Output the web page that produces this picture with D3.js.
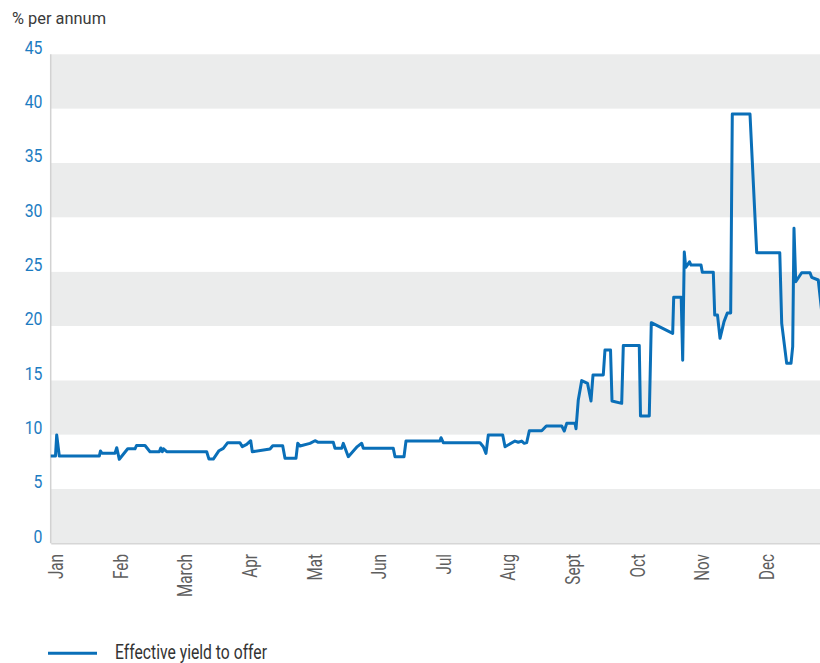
<!DOCTYPE html>
<html>
<head>
<meta charset="utf-8">
<script src="https://cdn.jsdelivr.net/npm/d3@7"></script>
<style>
  html, body { margin: 0; padding: 0; background: #fff; }
  svg { display: block; font-family: Roboto, "Noto Sans", sans-serif; }
</style>
</head>
<body>
<svg id="chart" width="820" height="663"></svg>
<script>
// ---- data ----
const months = ["Jan", "Feb", "March", "Apr", "Mat", "Jun", "Jul", "Aug", "Sept", "Oct", "Nov", "Dec"];
const yTicks = [0, 5, 10, 15, 20, 25, 30, 35, 40, 45];
const yTitle = "% per annum";
const seriesName = "Effective yield to offer";
// position in months from start of year
const monthPos = [
  0.000, 0.074, 0.093, 0.133, 0.752, 0.771, 0.794, 0.995, 1.022, 1.062,
  1.192, 1.305, 1.328, 1.460, 1.537, 1.681, 1.703, 1.728, 1.743, 1.796,
  2.415, 2.450, 2.517, 2.605, 2.672, 2.740, 2.930, 2.966, 3.034, 3.096,
  3.121, 3.395, 3.437, 3.591, 3.627, 3.797, 3.824, 3.859, 4.014, 4.091,
  4.142, 4.375, 4.401, 4.505, 4.529, 4.607, 4.746, 4.814, 4.839, 5.303,
  5.330, 5.469, 5.500, 6.026, 6.042, 6.077, 6.646, 6.697, 6.738, 6.774,
  6.997, 7.033, 7.187, 7.238, 7.291, 7.331, 7.368, 7.409, 7.601, 7.672,
  7.910, 7.950, 7.988, 8.116, 8.132, 8.167, 8.220, 8.310, 8.364, 8.395,
  8.554, 8.580, 8.666, 8.689, 8.839, 8.864, 9.111, 9.130, 9.266, 9.297,
  9.628, 9.644, 9.760, 9.783, 9.808, 9.830, 9.889, 9.912, 10.067, 10.087,
  10.257, 10.279, 10.322, 10.361, 10.423, 10.474, 10.526, 10.551, 10.825, 10.929,
  11.286, 11.316, 11.393, 11.460, 11.486, 11.506, 11.533, 11.625, 11.754, 11.780,
  11.882, 11.932
];
const yieldVals = [
  8.03, 8.03, 9.97, 8.03, 8.03, 8.50, 8.28, 8.28, 8.80, 7.73,
  8.70, 8.70, 9.00, 9.00, 8.43, 8.43, 8.77, 8.43, 8.70, 8.43,
  8.43, 7.75, 7.75, 8.52, 8.74, 9.26, 9.26, 8.89, 9.10, 9.44,
  8.43, 8.68, 8.98, 8.98, 7.82, 7.82, 9.20, 8.95, 9.20, 9.44,
  9.29, 9.29, 8.74, 8.74, 9.20, 7.97, 8.90, 9.20, 8.74, 8.74,
  7.97, 7.97, 9.41, 9.41, 9.72, 9.26, 9.26, 8.89, 8.28, 9.97,
  9.97, 8.89, 9.41, 9.30, 9.41, 9.20, 9.26, 10.36, 10.36, 10.80,
  10.80, 10.33, 11.04, 11.04, 10.55, 13.19, 14.97, 14.72, 13.10, 15.49,
  15.49, 17.79, 17.79, 13.10, 12.88, 18.20, 18.20, 11.71, 11.71, 20.30,
  19.32, 22.65, 22.65, 16.85, 26.80, 25.40, 25.90, 25.60, 25.60, 24.95,
  24.95, 21.00, 21.00, 18.86, 20.40, 21.20, 21.20, 39.50, 39.50, 26.74,
  26.74, 20.24, 16.56, 16.56, 18.09, 28.99, 24.07, 24.90, 24.90, 24.48,
  24.23, 21.50
];

// ---- layout ----
const svg = d3.select("#chart");
const W = 820;
const x = d3.scaleLinear().domain([0, 12]).range([50.7, 825.9]);
const y = d3.scaleLinear().domain([0, 45]).range([543.3, 54.3]);

const blue = "#0a6fb8";
const bandGray = "#ebecec";

// bands (alternating)
const bands = d3.range(0, 45, 5);
svg.append("g").selectAll("rect").data(bands).join("rect")
  .attr("x", x(0))
  .attr("width", W - x(0))
  .attr("y", d => y(d + 5))
  .attr("height", d => y(d) - y(d + 5))
  .attr("fill", (d, i) => i % 2 === 0 ? bandGray : "#ffffff");

// left axis line
svg.append("line")
  .attr("x1", x(0)).attr("x2", x(0))
  .attr("y1", y(45)).attr("y2", y(0))
  .attr("stroke", "#d2d2d2").attr("stroke-width", 1.5);

// y axis
const yAxis = svg.append("g")
  .attr("transform", `translate(${x(0)},0)`)
  .call(d3.axisLeft(y).tickValues(yTicks).tickSize(0).tickPadding(8));
yAxis.select(".domain").remove();
const yScaleX = 0.88;
yAxis.selectAll("text")
  .attr("fill", "#1c7cc2")
  .attr("font-size", 18)
  .attr("font-family", "Roboto, sans-serif")
  .attr("dy", -1)
  .attr("x", -8.2 / yScaleX)
  .attr("transform", `scale(${yScaleX},1)`);

// x axis
const xAxis = svg.append("g")
  .attr("transform", `translate(0,${y(0)})`)
  .call(d3.axisBottom(x).tickValues(d3.range(12)).tickFormat(i => months[i]).tickSize(0).tickSizeOuter(0));
xAxis.select(".domain")
  .attr("stroke", "#d6d6d6").attr("stroke-width", 1.5);
xAxis.selectAll("text")
  .attr("fill", "#5e5e5e")
  .attr("font-size", 20.5)
  .attr("font-family", "Roboto, sans-serif")
  .attr("text-anchor", "end")
  .attr("x", 0).attr("y", 0)
  .attr("dy", "0.35em")
  .attr("transform", "translate(4.8,10.7) rotate(-90) scale(0.744,1)");

// title
svg.append("text")
  .attr("x", 12).attr("y", 24)
  .attr("font-size", 17.3)
  .attr("fill", "#3a3a3a")
  .attr("textLength", 94)
  .attr("lengthAdjust", "spacingAndGlyphs")
  .text(yTitle);

// line
const pts = monthPos.map((m, i) => [m, yieldVals[i]]);
svg.append("path")
  .datum(pts)
  .attr("fill", "none")
  .attr("stroke", blue)
  .attr("stroke-width", 3)
  .attr("stroke-linejoin", "round")
  .attr("d", d3.line().x(d => x(d[0])).y(d => y(d[1])));

// legend
const lg = svg.append("g");
lg.append("line")
  .attr("x1", 48).attr("x2", 97)
  .attr("y1", 653.3).attr("y2", 653.3)
  .attr("stroke", blue).attr("stroke-width", 3);
lg.append("text")
  .attr("x", 115).attr("y", 659)
  .attr("font-size", 19.5)
  .attr("fill", "#333333")
  .attr("textLength", 152)
  .attr("lengthAdjust", "spacingAndGlyphs")
  .text(seriesName);
</script>
</body>
</html>
